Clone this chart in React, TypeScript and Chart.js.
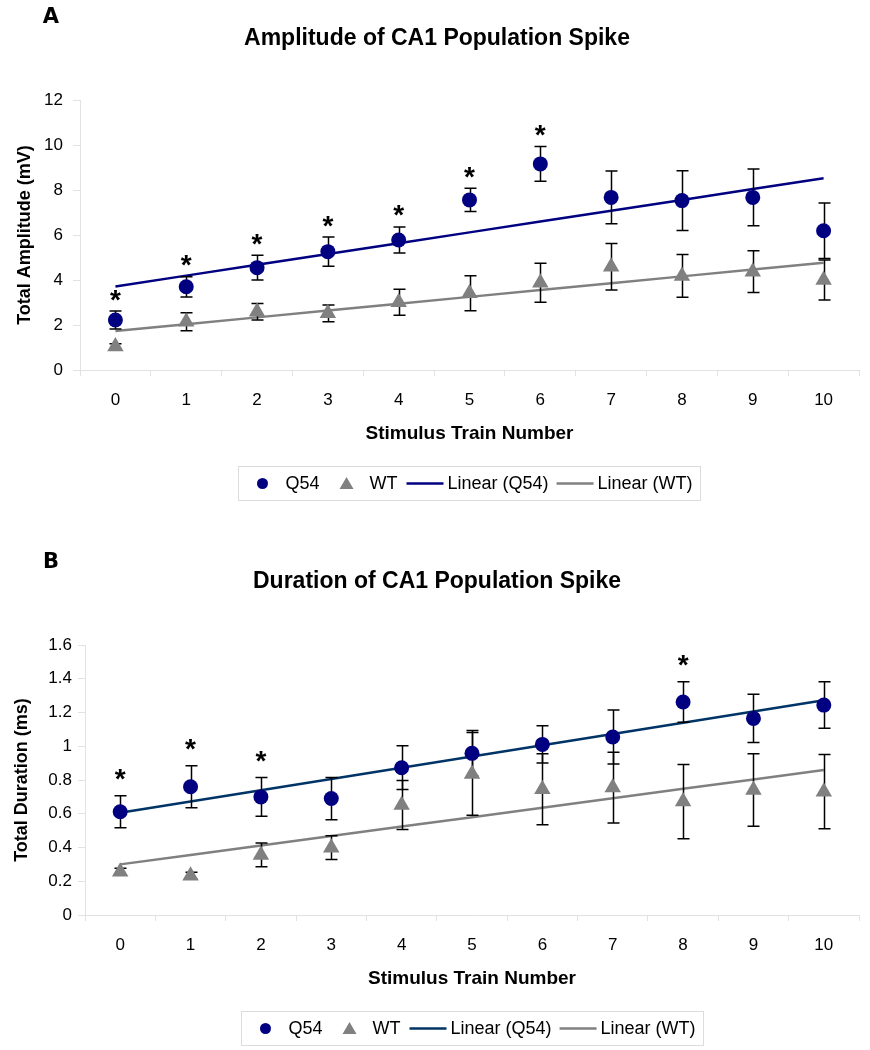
import React, { useEffect, useRef } from "react";
import { Chart, registerables } from "chart.js";

Chart.register(...registerables);
Chart.defaults.font.family = '"Liberation Sans", Arial, sans-serif';
Chart.defaults.color = "#000";

// ---------- data ----------
const categories = ["0", "1", "2", "3", "4", "5", "6", "7", "8", "9", "10"];

// Panel A: amplitude (mV)
const ampQ54 = [2.22, 3.7, 4.55, 5.26, 5.78, 7.56, 9.16, 7.67, 7.53, 7.67, 6.19];
const ampQ54Err = [0.4, 0.45, 0.55, 0.65, 0.58, 0.52, 0.77, 1.17, 1.33, 1.26, 1.23];
const ampWT = [1.05, 2.15, 2.59, 2.52, 3.01, 3.41, 3.88, 4.59, 4.18, 4.37, 4.0];
const ampWTErr = [0.12, 0.4, 0.37, 0.37, 0.58, 0.78, 0.87, 1.03, 0.95, 0.93, 0.89];
const ampSignificant = [0, 1, 2, 3, 4, 5, 6];

// Panel B: duration (ms)
const durQ54 = [0.612, 0.76, 0.7, 0.69, 0.873, 0.958, 1.011, 1.055, 1.262, 1.165, 1.244];
const durQ54Err = [0.095, 0.125, 0.115, 0.125, 0.13, 0.135, 0.11, 0.16, 0.12, 0.143, 0.138];
const durWT = [0.257, 0.233, 0.356, 0.399, 0.652, 0.836, 0.745, 0.755, 0.672, 0.741, 0.731];
const durWTErr = [0.02, 0.02, 0.07, 0.07, 0.145, 0.245, 0.21, 0.21, 0.22, 0.215, 0.22];
const durSignificant = [0, 1, 2, 8];

const seriesLabels = ["Q54", "WT", "Linear (Q54)", "Linear (WT)"];

// ---------- helpers ----------
const NAVY = "#000080";
const GRAY = "#808080";

function linearFit(ys: number[]): number[] {
  const n = ys.length;
  const mx = (n - 1) / 2;
  const my = ys.reduce((a, b) => a + b, 0) / n;
  let sxy = 0;
  let sxx = 0;
  ys.forEach((y, i) => {
    sxy += (i - mx) * (y - my);
    sxx += (i - mx) * (i - mx);
  });
  const slope = sxy / sxx;
  const b = my - slope * mx;
  return ys.map((_, i) => b + slope * i);
}

interface Panel {
  letter: string;
  title: string;
  yTitle: string;
  q54: number[];
  q54Err: number[];
  wt: number[];
  wtErr: number[];
  sig: number[];
  yMax: number;
  yStep: number;
  trendColor: string;
  height: number;
  padTop: number;
  padBottom: number;
  yWidth: number;
  yTickPad: number;
  yTitlePad: number;
  letterY: number;
  titleY: number;
  starOffset: number;
}

const panelA: Panel = {
  letter: "A",
  title: "Amplitude of CA1 Population Spike",
  yTitle: "Total Amplitude (mV)",
  q54: ampQ54,
  q54Err: ampQ54Err,
  wt: ampWT,
  wtErr: ampWTErr,
  sig: ampSignificant,
  yMax: 12,
  yStep: 2,
  trendColor: NAVY,
  height: 540,
  padTop: 100,
  padBottom: 90,
  yWidth: 80,
  yTickPad: 10,
  yTitlePad: 14,
  letterY: 18,
  titleY: 39,
  starOffset: 16,
};

const panelB: Panel = {
  letter: "B",
  title: "Duration of CA1 Population Spike",
  yTitle: "Total Duration (ms)",
  q54: durQ54,
  q54Err: durQ54Err,
  wt: durWT,
  wtErr: durWTErr,
  sig: durSignificant,
  yMax: 1.6,
  yStep: 0.2,
  trendColor: "#003366",
  height: 510,
  padTop: 105,
  padBottom: 55,
  yWidth: 85,
  yTickPad: 6,
  yTitlePad: 11,
  letterY: 23,
  titleY: 42,
  starOffset: 21,
};

function buildChart(canvas: HTMLCanvasElement, p: Panel): Chart {
  const errorPlugin = {
    id: "errorBars",
    afterDatasetDraw(chart: any, args: any) {
      if (args.index !== 2) return;
      const { ctx } = chart;
      const xs = chart.scales.x;
      const ys = chart.scales.y;
      ctx.save();
      ctx.strokeStyle = "#000";
      ctx.lineWidth = 1.5;
      const sets = [
        { v: p.q54, e: p.q54Err },
        { v: p.wt, e: p.wtErr },
      ];
      sets.forEach(({ v, e }) => {
        v.forEach((val, i) => {
          const px = Math.round(xs.getPixelForValue(i)) + 0.5;
          const top = ys.getPixelForValue(val + e[i]);
          const bot = ys.getPixelForValue(val - e[i]);
          ctx.beginPath();
          ctx.moveTo(px, top);
          ctx.lineTo(px, bot);
          ctx.moveTo(px - 6, top);
          ctx.lineTo(px + 6, top);
          ctx.moveTo(px - 6, bot);
          ctx.lineTo(px + 6, bot);
          ctx.stroke();
        });
      });
      ctx.restore();
    },
  };

  const starPlugin = {
    id: "significance",
    afterDatasetsDraw(chart: any) {
      const { ctx } = chart;
      const xs = chart.scales.x;
      const ys = chart.scales.y;
      ctx.save();
      ctx.fillStyle = "#000";
      ctx.font = 'bold 28px "Liberation Sans", Arial, sans-serif';
      ctx.textAlign = "center";
      ctx.textBaseline = "alphabetic";
      const m = ctx.measureText("*");
      const asc = m.actualBoundingBoxAscent;
      const desc = m.actualBoundingBoxDescent;
      p.sig.forEach((i) => {
        const px = xs.getPixelForValue(i);
        const center = ys.getPixelForValue(p.q54[i] + p.q54Err[i]) - p.starOffset;
        const baseline = center - (desc - asc) / 2;
        ctx.fillText("*", px, baseline);
      });
      ctx.restore();
    },
  };

  const legendPlugin = {
    id: "boxLegend",
    afterDraw(chart: any) {
      const { ctx, chartArea } = chart;
      const ds = chart.data.datasets;
      ctx.save();
      ctx.font = '18px "Liberation Sans", Arial, sans-serif';
      const items = ds.map((d: any) => ({
        label: d.label as string,
        kind: d.showLine === false ? "point" : "line",
        style: d.pointStyle,
        color: d.showLine === false ? d.pointBackgroundColor : d.borderColor,
        w: ctx.measureText(d.label).width,
      }));
      const leftPad = 14;
      const rightPad = 8;
      const gapAfter = (i: number) => {
        if (i >= items.length - 1) return 0;
        const cur = items[i].kind;
        const nxt = items[i + 1].kind;
        if (cur === "point" && nxt === "point") return 17;
        if (cur === "point") return 9;
        return 8;
      };
      const textOff = (k: string) => (k === "point" ? 33 : 41);
      let total = leftPad + rightPad;
      items.forEach((it: any, i: number) => {
        total += textOff(it.kind) + it.w + gapAfter(i);
      });
      const boxH = 34;
      const boxLeft = Math.round((chartArea.left + chartArea.right) / 2 - total / 2) + 0.5;
      const boxTop = Math.round(chartArea.bottom + 96) + 0.5;
      ctx.strokeStyle = "#dcdcdc";
      ctx.lineWidth = 1;
      ctx.strokeRect(boxLeft, boxTop, Math.round(total), boxH);
      const cy = boxTop + boxH / 2;
      let x = boxLeft + leftPad;
      items.forEach((it: any, i: number) => {
        ctx.fillStyle = it.color;
        ctx.strokeStyle = it.color;
        if (it.kind === "point") {
          const mx = x + 10;
          ctx.beginPath();
          if (it.style === "triangle") {
            ctx.moveTo(mx, cy - 6.5);
            ctx.lineTo(mx + 7, cy + 5.5);
            ctx.lineTo(mx - 7, cy + 5.5);
            ctx.closePath();
          } else {
            ctx.arc(mx, cy, 5.5, 0, Math.PI * 2);
          }
          ctx.fill();
        } else {
          ctx.lineWidth = 2.5;
          ctx.beginPath();
          ctx.moveTo(x, cy);
          ctx.lineTo(x + 37, cy);
          ctx.stroke();
        }
        const tx = x + textOff(it.kind);
        ctx.fillStyle = "#000";
        ctx.textAlign = "left";
        ctx.textBaseline = "middle";
        ctx.fillText(it.label, tx, cy + 1);
        x = tx + it.w + gapAfter(i);
      });
      ctx.restore();
    },
  };

  const titlePlugin = {
    id: "panelTitles",
    afterDraw(chart: any) {
      const { ctx } = chart;
      ctx.save();
      ctx.fillStyle = "#000";
      ctx.textBaseline = "middle";
      ctx.textAlign = "center";
      ctx.font = 'bold 21px "DejaVu Sans", Arial, sans-serif';
      ctx.fillText(p.letter, 51, p.letterY);
      ctx.font = 'bold 23px "Liberation Sans", Arial, sans-serif';
      ctx.fillText(p.title, 437, p.titleY);
      ctx.restore();
    },
  };

  const gridColor = "#e2e2e2";

  return new Chart(canvas, {
    type: "line",
    data: {
      labels: categories,
      datasets: [
        {
          label: seriesLabels[0],
          data: p.q54,
          showLine: false,
          pointStyle: "circle",
          pointRadius: 7.5,
          pointHoverRadius: 7.5,
          pointBackgroundColor: NAVY,
          pointBorderColor: NAVY,
          pointBorderWidth: 0,
        },
        {
          label: seriesLabels[1],
          data: p.wt,
          showLine: false,
          pointStyle: "triangle",
          pointRadius: 9.5,
          pointHoverRadius: 9.5,
          pointBackgroundColor: GRAY,
          pointBorderColor: GRAY,
          pointBorderWidth: 0,
        },
        {
          label: seriesLabels[2],
          data: linearFit(p.q54),
          borderColor: p.trendColor,
          backgroundColor: p.trendColor,
          borderWidth: 2.5,
          pointRadius: 0,
          pointHoverRadius: 0,
          tension: 0,
          fill: false,
        },
        {
          label: seriesLabels[3],
          data: linearFit(p.wt),
          borderColor: GRAY,
          backgroundColor: GRAY,
          borderWidth: 2.5,
          pointRadius: 0,
          pointHoverRadius: 0,
          tension: 0,
          fill: false,
        },
      ],
    },
    options: {
      responsive: false,
      animation: false,
      devicePixelRatio: 1,
      events: [],
      layout: { padding: { top: p.padTop, right: 11, bottom: p.padBottom, left: 0 } },
      plugins: {
        legend: { display: false },
        tooltip: { enabled: false },
        title: { display: false },
      },
      scales: {
        x: {
          type: "category",
          offset: true,
          grid: {
            offset: true,
            drawOnChartArea: false,
            drawTicks: true,
            tickLength: 6,
            color: gridColor,
          },
          border: { display: true, color: gridColor },
          ticks: {
            color: "#000",
            font: { size: 17 },
            padding: 14,
            maxRotation: 0,
            autoSkip: false,
          },
          title: {
            display: true,
            text: "Stimulus Train Number",
            color: "#000",
            font: { size: 19, weight: "bold" },
            padding: { top: 0, bottom: 4.6 },
          },
          afterFit: (s: any) => {
            s.height = 80;
          },
        },
        y: {
          min: 0,
          max: p.yMax,
          grid: {
            drawOnChartArea: false,
            drawTicks: true,
            tickLength: 7,
            color: gridColor,
          },
          border: { display: true, color: gridColor },
          ticks: {
            stepSize: p.yStep,
            color: "#000",
            font: { size: 17 },
            padding: p.yTickPad,
            callback: (v: any) => String(Math.round(Number(v) * 10) / 10),
          },
          title: {
            display: true,
            text: p.yTitle,
            color: "#000",
            font: { size: 18, weight: "bold" },
            padding: { top: p.yTitlePad, bottom: 0 },
          },
          afterFit: (s: any) => {
            s.width = p.yWidth;
          },
        },
      },
    } as any,
    plugins: [errorPlugin, starPlugin, legendPlugin, titlePlugin],
  });
}

export default function App() {
  const refA = useRef<HTMLCanvasElement>(null);
  const refB = useRef<HTMLCanvasElement>(null);

  useEffect(() => {
    const a = buildChart(refA.current!, panelA);
    const b = buildChart(refB.current!, panelB);
    return () => {
      a.destroy();
      b.destroy();
    };
  }, []);

  return (
    <div
      style={{
        position: "absolute",
        left: 0,
        top: 0,
        width: 870,
        height: 1050,
        background: "#fff",
      }}
    >
      <canvas
        ref={refA}
        width={870}
        height={panelA.height}
        style={{ position: "absolute", left: 0, top: 0, width: 870, height: panelA.height }}
      />
      <canvas
        ref={refB}
        width={870}
        height={panelB.height}
        style={{ position: "absolute", left: 0, top: panelA.height, width: 870, height: panelB.height }}
      />
    </div>
  );
}
